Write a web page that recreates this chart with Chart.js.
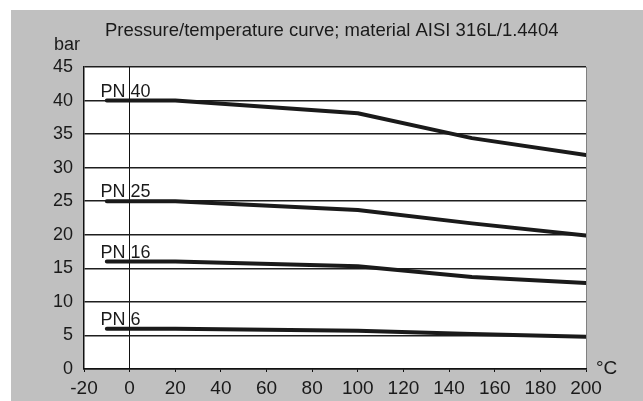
<!DOCTYPE html>
<html>
<head>
<meta charset="utf-8">
<script src="https://cdn.jsdelivr.net/npm/chart.js@4.4.1/dist/chart.umd.min.js"></script>
<style>
  html, body { margin: 0; padding: 0; background: #fff; overflow: hidden; }
  #wrap { width: 643px; height: 401px; position: relative; }
</style>
</head>
<body>
<div id="wrap"><canvas id="ptChart" width="643" height="401"></canvas></div>
<script>
// Temperatures (°C) and allowed pressure (bar) per PN class
const temps = [-10, 20, 100, 150, 200];
const pn40 = [40, 40, 38.1, 34.4, 31.9];
const pn25 = [25, 25, 23.7, 21.7, 19.9];
const pn16 = [16, 16, 15.3, 13.7, 12.8];
const pn6 = [6, 6, 5.7, 5.2, 4.8];
const seriesNames = ['PN 40', 'PN 25', 'PN 16', 'PN 6'];
const seriesValues = [pn40, pn25, pn16, pn6];

const xTicks = [-20, 0, 20, 40, 60, 80, 100, 120, 140, 160, 180, 200];
const yTicks = [0, 5, 10, 15, 20, 25, 30, 35, 40, 45];

const titleText = 'Pressure/temperature curve; material AISI 316L/1.4404';
const yUnit = 'bar';
const xUnit = '°C';
const labelX = -12.8; // temperature where PN labels start

const FONT = "'Liberation Sans', Arial, sans-serif";

/**
 * Gray frame + white plot area
 */
const framePlugin = {
    id: 'frame',
    beforeDraw(chart) {
        const { ctx, chartArea: a } = chart;
        ctx.save();
        ctx.fillStyle = '#ffffff';
        ctx.fillRect(0, 0, chart.width, chart.height);
        ctx.fillStyle = '#c0c0c0';
        ctx.fillRect(11, 10, chart.width - 11, chart.height - 10);
        ctx.fillStyle = '#ffffff';
        ctx.fillRect(a.left, a.top, a.right - a.left, a.bottom - a.top);
        ctx.restore();
    }
};

/**
 * Title, unit labels and PN labels
 */
const textPlugin = {
    id: 'texts',
    afterDraw(chart) {
        const { ctx, scales } = chart;
        ctx.save();
        ctx.fillStyle = '#1a1a1a';
        ctx.textBaseline = 'alphabetic';
        ctx.textAlign = 'left';

        ctx.font = '18.5px ' + FONT;
        ctx.fillText(titleText, 105, 36);
        ctx.font = '18px ' + FONT;
        ctx.fillText(yUnit, 54, 50);
        ctx.font = '19px ' + FONT;
        ctx.fillText(xUnit, 596, 374);

        ctx.font = '18px ' + FONT;
        seriesNames.forEach(function (name, i) {
            const px = scales.x.getPixelForValue(labelX);
            const py = scales.y.getPixelForValue(seriesValues[i][0]);
            ctx.fillText(name, px, py - 4);
        });
        ctx.restore();
    }
};

const ctx = document.getElementById('ptChart').getContext('2d');

new Chart(ctx, {
    type: 'line',
    data: {
        datasets: seriesNames.map(function (name, i) {
            return {
                label: name,
                data: temps.map(function (t, j) { return { x: t, y: seriesValues[i][j] }; }),
                borderColor: '#1a1a1a',
                borderWidth: 4,
                borderCapStyle: 'round',
                borderJoinStyle: 'round',
                pointRadius: 0,
                tension: 0,
                fill: false
            };
        })
    },
    options: {
        responsive: false,
        animation: false,
        devicePixelRatio: 1,
        layout: { padding: { left: 0, top: 67, right: 57, bottom: 0 } },
        plugins: {
            legend: { display: false },
            tooltip: { enabled: false },
            title: { display: false }
        },
        scales: {
            x: {
                type: 'linear',
                min: -20,
                max: 200,
                afterFit: function (scale) { scale.height = 32; },
                afterBuildTicks: function (scale) {
                    scale.ticks = xTicks.map(function (v) { return { value: v }; });
                },
                border: { display: true, color: '#111', width: 1.5 },
                grid: {
                    drawTicks: true,
                    tickLength: 3,
                    tickColor: '#111',
                    lineWidth: 1,
                    color: function (c) {
                        if (c.tick && c.tick.value === 0) return '#111';
                        if (c.tick && c.tick.value === 200) return '#808080';
                        return 'rgba(0,0,0,0)';
                    }
                },
                ticks: {
                    color: '#1a1a1a',
                    padding: 5,
                    maxRotation: 0,
                    autoSkip: false,
                    font: { family: FONT, size: 19 }
                }
            },
            y: {
                type: 'linear',
                min: 0,
                max: 45,
                afterFit: function (scale) { scale.width = 84; },
                afterBuildTicks: function (scale) {
                    scale.ticks = yTicks.map(function (v) { return { value: v }; });
                },
                border: { display: true, color: '#111', width: 1.5 },
                grid: {
                    drawTicks: false,
                    color: '#1e1e1e',
                    lineWidth: 1.5
                },
                ticks: {
                    color: '#1a1a1a',
                    padding: 11,
                    autoSkip: false,
                    font: { family: FONT, size: 18 }
                }
            }
        }
    },
    plugins: [framePlugin, textPlugin]
});
</script>
</body>
</html>
